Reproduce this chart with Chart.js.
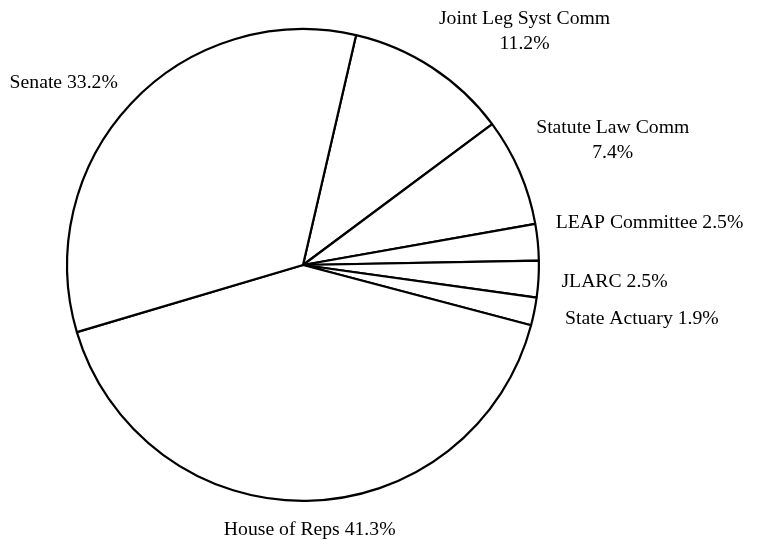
<!DOCTYPE html>
<html>
<head>
<meta charset="utf-8">
<script src="https://cdn.jsdelivr.net/npm/chart.js@4"></script>
<style>
html,body{margin:0;padding:0;background:#fff;}
canvas{display:block;}
</style>
</head>
<body>
<canvas id="c" width="757" height="540"></canvas>
<script>
const categories = ["Joint Leg Syst Comm", "Statute Law Comm", "LEAP Committee", "JLARC", "State Actuary", "House of Reps", "Senate"];
const values = [11.2, 7.4, 2.5, 2.5, 1.9, 41.3, 33.2];
const twoLine = [true, true, false, false, false, false, false];

// label placement style: alignment and pixel nudge from the slice's mid-angle anchor
const labelAlign = ["center", "center", "left", "left", "left", "center", "right"];
const labelNudge = [[87, -28], [84, -27], [8, -18], [13, 2], [21, 5], [3, 19], [-6, -14]];

const labelPlugin = {
  id: 'outLabels',
  afterDatasetsDraw(chart) {
    const ctx = chart.ctx;
    const meta = chart.getDatasetMeta(0);
    ctx.save();
    ctx.font = '19.7px "Liberation Serif", "Times New Roman", serif';
    ctx.fillStyle = '#000';
    ctx.textBaseline = 'middle';
    meta.data.forEach((arc, i) => {
      const p = arc.getProps(['x', 'y', 'startAngle', 'endAngle', 'outerRadius'], true);
      const mid = (p.startAngle + p.endAngle) / 2;
      const r = p.outerRadius + 10;
      const ax = p.x + Math.cos(mid) * r + labelNudge[i][0];
      const ay = p.y + Math.sin(mid) * r + labelNudge[i][1];
      const pct = values[i].toFixed(1) + '%';
      ctx.textAlign = labelAlign[i];
      if (twoLine[i]) {
        ctx.fillText(categories[i], ax, ay - 12.5);
        ctx.fillText(pct, ax, ay + 12.5);
      } else {
        ctx.fillText(categories[i] + ' ' + pct, ax, ay);
      }
    });
    ctx.restore();
  }
};

new Chart(document.getElementById('c'), {
  type: 'pie',
  data: {
    labels: categories,
    datasets: [{
      data: values,
      backgroundColor: '#ffffff',
      borderColor: '#000000',
      borderWidth: 2.2
    }]
  },
  options: {
    responsive: false,
    animation: false,
    rotation: 13,
    layout: { padding: { left: 66, right: 217, top: 28, bottom: 38 } },
    plugins: { legend: { display: false }, tooltip: { enabled: false } }
  },
  plugins: [labelPlugin]
});
</script>
</body>
</html>
